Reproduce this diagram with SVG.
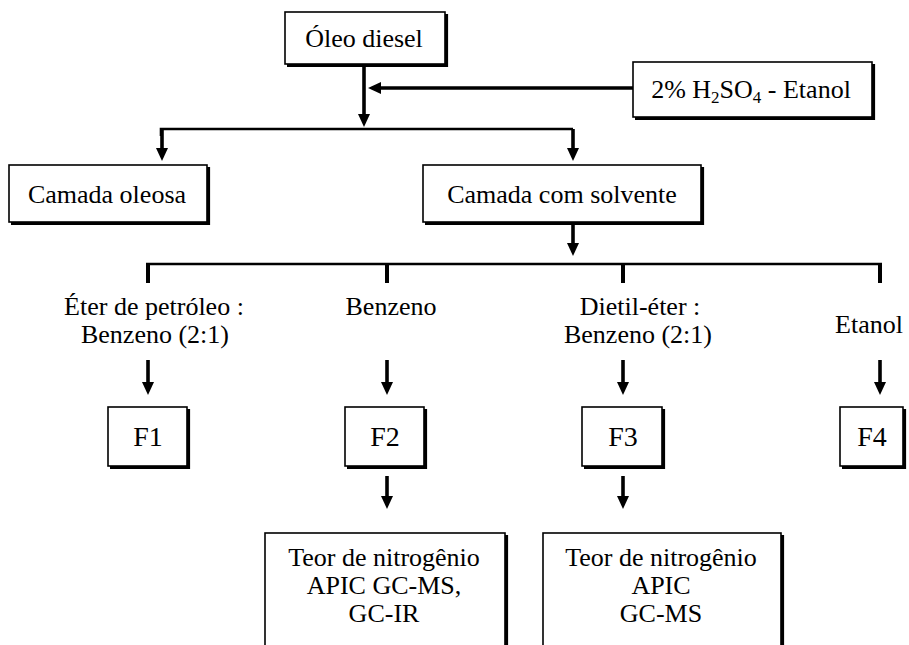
<svg xmlns="http://www.w3.org/2000/svg" width="909" height="645" viewBox="0 0 909 645">
  <style>
    .box { fill: #fff; stroke: #000; stroke-width: 1.6; }
    .shadow { fill: none; stroke: #000; stroke-width: 3.2; stroke-linejoin: miter; }
    .lbl { font-family: "Liberation Serif", "Times New Roman", serif; font-size: 26px; fill: #000; text-anchor: middle; }
    .big { font-size: 28px; }
    .wire { fill: none; stroke: #000; stroke-width: 2.6; }
    .arrow { fill: none; stroke: #000; stroke-width: 3.6; marker-end: url(#ah); }
    .tick { fill: none; stroke: #000; stroke-width: 4; }
  </style>
  <defs>
    <marker id="ah" markerUnits="userSpaceOnUse" markerWidth="13" markerHeight="12" viewBox="0 0 13 12" refX="5" refY="6" orient="auto">
      <path d="M0,0 L13,6 L0,12 z" fill="#000"/>
    </marker>
  </defs>
  <rect width="909" height="645" fill="#fff"/>

  <g id="connectors">
    <!-- feed into the split -->
    <line class="arrow" x1="364" y1="66" x2="364" y2="119"/>
    <line class="arrow" x1="633" y1="88" x2="376" y2="88"/>
    <!-- first split -->
    <path class="wire" d="M161,136 V129 H573"/>
    <line class="arrow" x1="162" y1="129" x2="162" y2="153"/>
    <line class="arrow" x1="573" y1="129" x2="573" y2="153"/>
    <!-- solvent split -->
    <line class="arrow" x1="573" y1="224" x2="573" y2="248"/>
    <line class="wire" x1="146" y1="264" x2="882" y2="264"/>
    <line class="tick" x1="148" y1="263" x2="148" y2="283"/>
    <line class="tick" x1="387" y1="263" x2="387" y2="283"/>
    <line class="tick" x1="623" y1="263" x2="623" y2="283"/>
    <line class="tick" x1="880" y1="263" x2="880" y2="283"/>
    <!-- solvents to fractions -->
    <line class="arrow" x1="148" y1="360" x2="148" y2="387"/>
    <line class="arrow" x1="387" y1="360" x2="387" y2="387"/>
    <line class="arrow" x1="623" y1="360" x2="623" y2="387"/>
    <line class="arrow" x1="880" y1="360" x2="880" y2="387"/>
    <!-- fractions to analyses -->
    <line class="arrow" x1="387" y1="476" x2="387" y2="501"/>
    <line class="arrow" x1="623" y1="476" x2="623" y2="501"/>
  </g>

  <g id="oleo">
    <rect class="box" x="285" y="12" width="160" height="52"/>
    <path class="shadow" d="M446.5,14 V65.5 H287"/>
    <text class="lbl" x="364" y="47">Óleo diesel</text>
  </g>

  <g id="reagente">
    <rect class="box" x="633" y="62" width="239" height="55"/>
    <path class="shadow" d="M873.5,64 V118.5 H635"/>
    <text class="lbl" x="751" y="98">2% H<tspan font-size="17" dy="5">2</tspan><tspan dy="-5">SO</tspan><tspan font-size="17" dy="5">4</tspan><tspan dy="-5"> - Etanol</tspan></text>
  </g>

  <g id="camada-oleosa">
    <rect class="box" x="9" y="165" width="198" height="57"/>
    <path class="shadow" d="M208.5,167 V223.5 H11"/>
    <text class="lbl" x="107" y="203">Camada oleosa</text>
  </g>

  <g id="camada-solvente">
    <rect class="box" x="423" y="165" width="278" height="57"/>
    <path class="shadow" d="M702.5,167 V223.5 H425"/>
    <text class="lbl" x="562" y="203">Camada com solvente</text>
  </g>

  <g id="solvente-1">
    <text class="lbl" x="154" y="315">Éter de petróleo :</text>
    <text class="lbl" x="155" y="343">Benzeno (2:1)</text>
  </g>
  <g id="solvente-2">
    <text class="lbl" x="391" y="315">Benzeno</text>
  </g>
  <g id="solvente-3">
    <text class="lbl" x="640" y="315">Dietil-éter :</text>
    <text class="lbl" x="638" y="343">Benzeno (2:1)</text>
  </g>
  <g id="solvente-4">
    <text class="lbl" x="869" y="333">Etanol</text>
  </g>

  <g id="f1">
    <rect class="box" x="108" y="407" width="79" height="59"/>
    <path class="shadow" d="M188.5,409 V467.5 H110"/>
    <text class="lbl big" x="148" y="446">F1</text>
  </g>
  <g id="f2">
    <rect class="box" x="345" y="407" width="79" height="59"/>
    <path class="shadow" d="M425.5,409 V467.5 H347"/>
    <text class="lbl big" x="385" y="446">F2</text>
  </g>
  <g id="f3">
    <rect class="box" x="582" y="407" width="80" height="59"/>
    <path class="shadow" d="M663.5,409 V467.5 H584"/>
    <text class="lbl big" x="623" y="446">F3</text>
  </g>
  <g id="f4">
    <rect class="box" x="840" y="407" width="63" height="59"/>
    <path class="shadow" d="M904.5,409 V467.5 H842"/>
    <text class="lbl big" x="872" y="446">F4</text>
  </g>

  <g id="analise-f2">
    <rect class="box" x="265" y="533" width="240" height="130"/>
    <path class="shadow" d="M506.5,535 V664"/>
    <text class="lbl" x="384" y="566">Teor de nitrogênio</text>
    <text class="lbl" x="384" y="594">APIC GC-MS,</text>
    <text class="lbl" x="384" y="622">GC-IR</text>
  </g>
  <g id="analise-f3">
    <rect class="box" x="543" y="533" width="238" height="130"/>
    <path class="shadow" d="M782.5,535 V664"/>
    <text class="lbl" x="661" y="566">Teor de nitrogênio</text>
    <text class="lbl" x="661" y="594">APIC</text>
    <text class="lbl" x="661" y="622">GC-MS</text>
  </g>
</svg>
